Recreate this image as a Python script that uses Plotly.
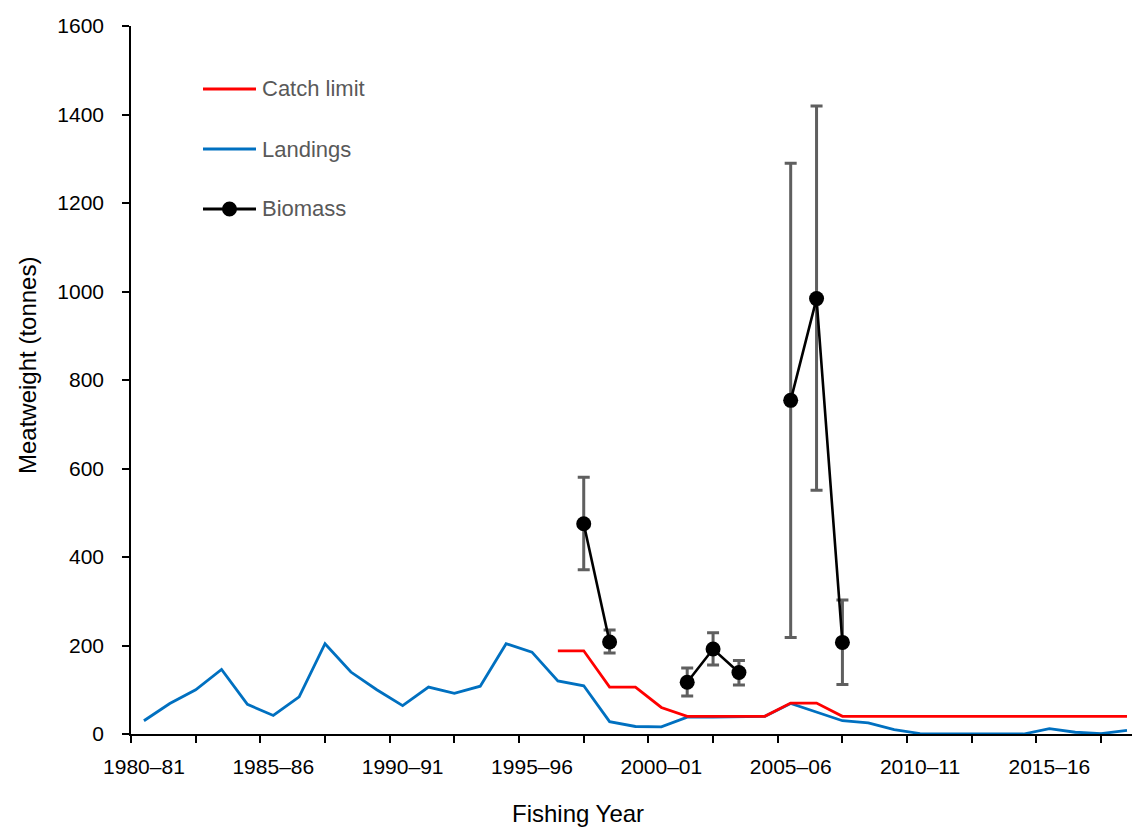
import plotly.graph_objects as go

years = ["1980–81", "1981–82", "1982–83", "1983–84", "1984–85", "1985–86", "1986–87",
         "1987–88", "1988–89", "1989–90", "1990–91", "1991–92", "1992–93", "1993–94",
         "1994–95", "1995–96", "1996–97", "1997–98", "1998–99", "1999–00", "2000–01",
         "2001–02", "2002–03", "2003–04", "2004–05", "2005–06", "2006–07", "2007–08",
         "2008–09", "2009–10", "2010–11", "2011–12", "2012–13", "2013–14", "2014–15",
         "2015–16", "2016–17", "2017–18", "2018–19"]

landings = [30, 69, 100, 146, 67, 42, 84, 204, 140, 100, 64, 106, 92, 108,
            204, 185, 120, 109, 28, 17, 16, 38, 38, 39, 40, 69, 50, 30,
            25, 10, 1, 1, 0, 0, 0, 12, 4, 1, 8]

catch_limit = [None] * 16 + [188, 188, 106, 106, 60, 40, 40, 40, 40, 70, 70, 40,
                             40, 40, 40, 40, 40, 40, 40, 40, 40, 40, 40]

biomass = [None] * 17 + [475, 208, None, None, 117, 192, 139, None, 754, 984, 207] + [None] * 11
biomass_upper = [None] * 17 + [580, 235, None, None, 149, 229, 166, None, 1290, 1419, 303] + [None] * 11
biomass_lower = [None] * 17 + [371, 183, None, None, 86, 156, 111, None, 218, 551, 112] + [None] * 11

x_idx = list(range(len(years)))
err_plus = [(u - v) if v is not None else 0 for v, u in zip(biomass, biomass_upper)]
err_minus = [(v - l) if v is not None else 0 for v, l in zip(biomass, biomass_lower)]

W, H = 1132, 829
L, R, T, B = 131, 0, 26, 95
PW, PH = W - L - R, H - T - B


def px_x(p):
    return (p - L) / PW


def px_y(p):
    return (H - B - p) / PH


FONT = "Liberation Sans, Arial, sans-serif"
RED = "#FF0000"
BLUE = "#0070C0"
GREY = "#595959"

fig = go.Figure()
fig.add_trace(go.Scatter(x=x_idx, y=landings, mode="lines", name="Landings",
                         line=dict(color=BLUE, width=2.8)))
fig.add_trace(go.Scatter(x=x_idx, y=catch_limit, mode="lines", name="Catch limit",
                         line=dict(color=RED, width=2.8)))
fig.add_trace(go.Scatter(x=x_idx, y=biomass, mode="lines+markers", name="Biomass",
                         line=dict(color="black", width=2.6),
                         marker=dict(color="black", size=15),
                         error_y=dict(type="data", symmetric=False, array=err_plus,
                                      arrayminus=err_minus, color="#5f5f5f",
                                      thickness=3, width=6)))

# manual legend (matches Excel layout)
leg_rows = [("Catch limit", RED, False, 89), ("Landings", BLUE, False, 149), ("Biomass", "black", True, 209)]
shapes = []
annotations = []
for name, col, mk, yy in leg_rows:
    shapes.append(dict(type="line", xref="paper", yref="paper",
                       x0=px_x(203), x1=px_x(256), y0=px_y(yy), y1=px_y(yy),
                       line=dict(color=col, width=2.8)))
    if mk:
        shapes.append(dict(type="circle", xref="paper", yref="paper",
                           x0=px_x(229.5 - 7.5), x1=px_x(229.5 + 7.5),
                           y0=px_y(yy + 7.5), y1=px_y(yy - 7.5),
                           fillcolor="black", line=dict(color="black", width=0)))
    annotations.append(dict(text=name, xref="paper", yref="paper", x=px_x(260), y=px_y(yy),
                            xanchor="left", yanchor="middle", showarrow=False,
                            font=dict(family=FONT, size=22, color=GREY)))

annotations.append(dict(text="Fishing Year", xref="paper", yref="paper", x=px_x(578), y=px_y(813),
                        xanchor="center", yanchor="middle", showarrow=False,
                        font=dict(family=FONT, size=24, color="black")))
annotations.append(dict(text="Meatweight (tonnes)", xref="paper", yref="paper", x=px_x(27), y=px_y(366),
                        xanchor="center", yanchor="middle", showarrow=False, textangle=-90,
                        font=dict(family=FONT, size=24, color="black")))

minor_vals = [-0.5 + 2.5 * k for k in range(16)]

fig.update_layout(
    width=W, height=H,
    margin=dict(l=L, r=R, t=T, b=B, pad=0),
    paper_bgcolor="white", plot_bgcolor="white",
    showlegend=False,
    font=dict(family=FONT, size=21, color="black"),
    shapes=shapes, annotations=annotations,
    xaxis=dict(range=[-0.5, -0.5 + PW / 25.87], tickmode="array",
               tickvals=x_idx[::5], ticktext=years[::5],
               ticks="outside", ticklen=7, tickcolor="rgba(0,0,0,0)",
               ticklabelstandoff=6,
               showline=True, linecolor="black", linewidth=1.5,
               showgrid=False, zeroline=False,
               tickfont=dict(family=FONT, size=21, color="black"),
               minor=dict(tickmode="array", tickvals=minor_vals, ticks="outside",
                          ticklen=7, tickcolor="black", tickwidth=1.5, showgrid=False)),
    yaxis=dict(range=[0, 1600], tickmode="linear", tick0=0, dtick=200,
               ticks="outside", ticklen=7, tickcolor="black", tickwidth=1.5,
               ticklabelstandoff=14,
               showline=True, linecolor="black", linewidth=1.5,
               showgrid=False, zeroline=False,
               tickfont=dict(family=FONT, size=21, color="black")),
)

fig.write_html("out.html", config={"displayModeBar": False},
               post_script="document.body.style.margin='0';document.body.style.overflow='hidden';")
